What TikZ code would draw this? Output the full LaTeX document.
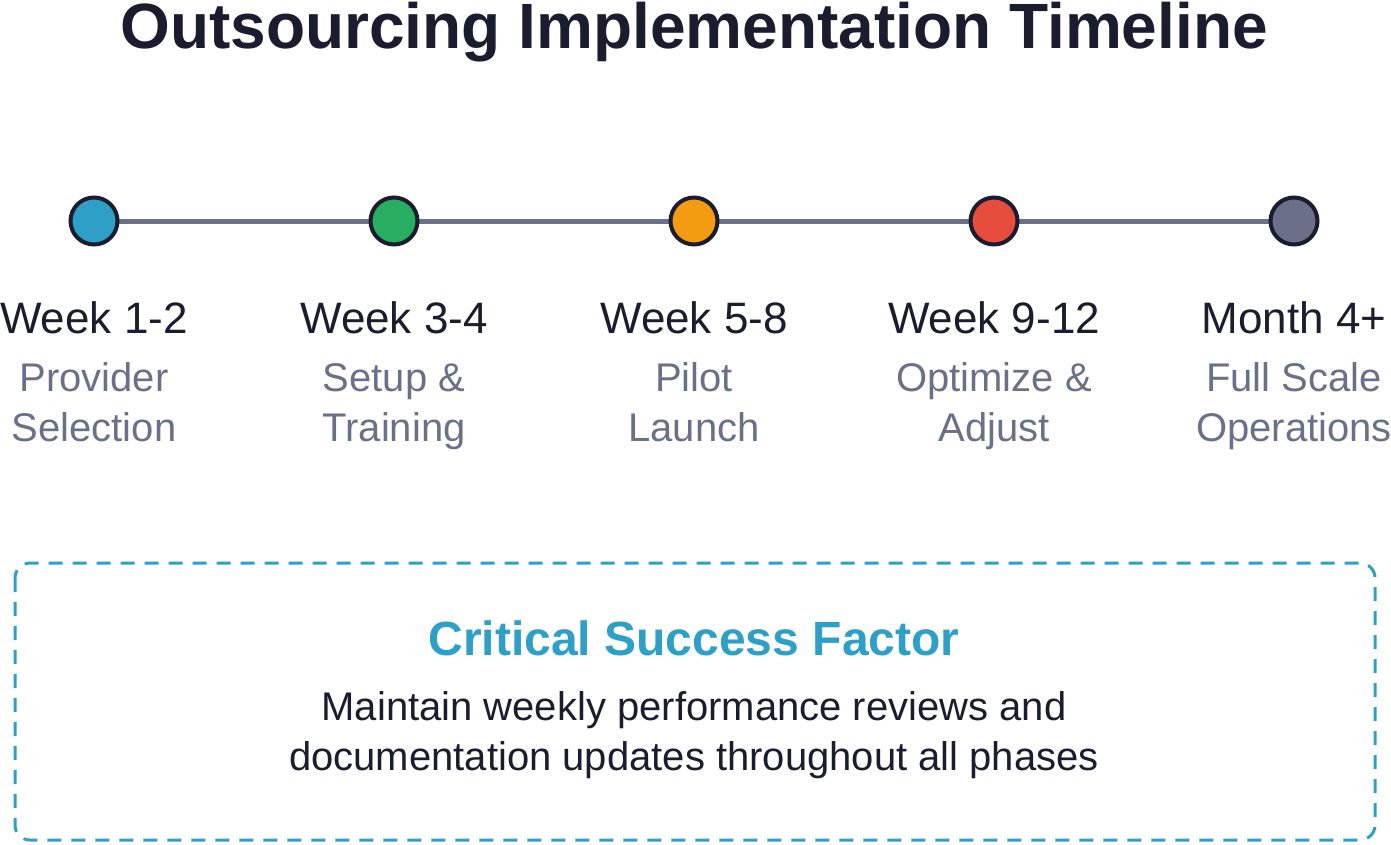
\documentclass[tikz,border=0pt]{standalone}
\usepackage{fontspec}
\setmainfont{Liberation Sans}
\definecolor{ink}{HTML}{1B1D2E}
\definecolor{muted}{HTML}{6B7089}
\definecolor{accent}{HTML}{2E9FC6}
\definecolor{cblue}{HTML}{2E9FC6}
\definecolor{cgreen}{HTML}{27AE60}
\definecolor{corange}{HTML}{F39C12}
\definecolor{cred}{HTML}{E74C3C}
\definecolor{cgray}{HTML}{6B6F8A}
\tikzset{
  dot/.style={circle, draw=ink, line width=4pt, minimum size=47pt, inner sep=0pt},
  when/.style={anchor=base, text=ink, font=\fontsize{44}{50}\selectfont},
  what/.style={anchor=base, text=muted, font=\fontsize{40}{50}\selectfont, align=center},
}
\begin{document}
\begin{tikzpicture}[x=1pt,y=-1pt]
\useasboundingbox (0,0) rectangle (1391,844);
\node[anchor=base, text=ink, font=\fontsize{64}{70}\selectfont\bfseries] (title) at (694,48) {Outsourcing Implementation Timeline};
\coordinate (ls) at (94,221);
\coordinate (le) at (1294,221);
\draw[cgray, line width=5pt] (ls) -- (le);
\node[dot, fill=cblue] (d1) at (94,221) {};
\node[dot, fill=cgreen] (d2) at (394,221) {};
\node[dot, fill=corange] (d3) at (694,221) {};
\node[dot, fill=cred] (d4) at (994,221) {};
\node[dot, fill=cgray] (d5) at (1294,221) {};
\node[when] (w1) at (94,333) {Week 1-2};
\node[when] (w2) at (394,333) {Week 3-4};
\node[when] (w3) at (694,333) {Week 5-8};
\node[when] (w4) at (994,333) {Week 9-12};
\node[when] (w5) at (1294,333) {Month 4+};
\node[what] (p1a) at (94,391) {Provider};
\node[what] (p1b) at (94,441) {Selection};
\node[what] (p2a) at (394,391) {Setup \&};
\node[what] (p2b) at (394,441) {Training};
\node[what] (p3a) at (694,391) {Pilot};
\node[what] (p3b) at (694,441) {Launch};
\node[what] (p4a) at (994,391) {Optimize \&};
\node[what] (p4b) at (994,441) {Adjust};
\node[what] (p5a) at (1294,391) {Full Scale};
\node[what] (p5b) at (1294,441) {Operations};
\draw[accent, line width=3pt, dash pattern=on 14pt off 10pt, rounded corners=15pt] (15,563) rectangle (1375,840);
\node[anchor=base, text=accent, font=\fontsize{48}{56}\selectfont\bfseries] (csf) at (694,655) {Critical Success Factor};
\node[anchor=base, text=ink, font=\fontsize{40}{50}\selectfont] (b1) at (694,720) {Maintain weekly performance reviews and};
\node[anchor=base, text=ink, font=\fontsize{40}{50}\selectfont] (b2) at (694,770) {documentation updates throughout all phases};
\end{tikzpicture}
\end{document}
